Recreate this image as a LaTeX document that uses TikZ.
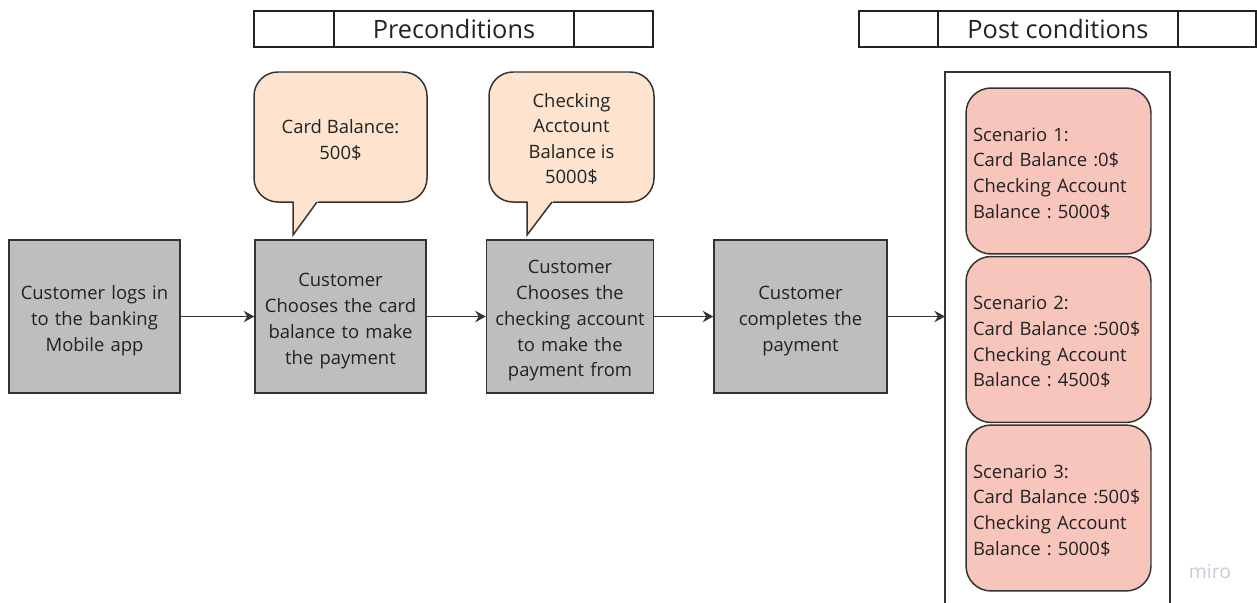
\documentclass[tikz,border=0pt]{standalone}
\usepackage{fontspec}
\setmainfont{Open Sans}
\frenchspacing
\usetikzlibrary{arrows.meta}

\definecolor{ink}{HTML}{222222}
\definecolor{edge}{HTML}{333333}
\definecolor{stepgray}{HTML}{BEBEBE}
\definecolor{notepeach}{HTML}{FEE4CF}
\definecolor{resultpink}{HTML}{F8C5BC}
\definecolor{markgray}{HTML}{C8CAD8}

\tikzset{
  stepbox/.style={draw=edge, line width=0.85pt, fill=stepgray, text=ink,
    align=center, text width=3.2cm, inner sep=2pt,
    minimum width=3.42cm, minimum height=3.06cm,
    font=\fontsize{10.5}{14.7}\selectfont,
    execute at begin node={\rule{0pt}{12.5pt}}},
  cell/.style={draw=ink, line width=1.1pt, fill=white, text=ink,
    minimum height=0.72cm, inner sep=0pt, font=\fontsize{14.4}{17}\selectfont},
  bubble/.style={draw=edge, line width=0.85pt, fill=notepeach},
  tail/.style={draw=edge, line width=0.85pt, line join=miter},
  note/.style={text=ink, align=center, font=\fontsize{10.5}{14.5}\selectfont},
  result/.style={draw=edge, line width=0.85pt, fill=resultpink, text=ink,
    rounded corners=0.5cm, align=left, text width=3.42cm, inner xsep=0.14cm,
    minimum width=3.7cm, minimum height=3.32cm,
    font=\fontsize{10.5}{14.6}\selectfont,
    execute at begin node={\rule{0pt}{10.5pt}}},
  flow/.style={draw=edge, line width=0.85pt,
    -{Stealth[length=6pt, width=6.5pt, inset=2pt]}}
}

\begin{document}
\begin{tikzpicture}[x=0.02cm, y=-0.02cm]
        \useasboundingbox (0,0) rectangle (1257,602);

        % header bars
        \node[cell, minimum width=1.6cm] (preL) at (294,29) {};
        \node[cell, minimum width=4.8cm] (pre) at (454,29) {Preconditions};
        \node[cell, minimum width=1.58cm] (preR) at (613.5,29) {};

        \node[cell, minimum width=1.58cm] (postL) at (898.5,29) {};
        \node[cell, minimum width=4.8cm] (post) at (1058,29) {Post conditions};
        \node[cell, minimum width=1.56cm] (postR) at (1217,29) {};

        % speech bubbles: rounded body, then the tail over its bottom edge
        \filldraw[bubble, rounded corners=0.48cm] (254,72) rectangle (427,202);
        \fill[notepeach] (293,199) -- (320,199) -- (293,235) -- cycle;
        \draw[tail] (293,201.6) -- (293,235) -- (317,202);

        \filldraw[bubble, rounded corners=0.48cm] (489,72) rectangle (654,202);
        \fill[notepeach] (527,199) -- (555,199) -- (527,235) -- cycle;
        \draw[tail] (527,201.6) -- (527,235) -- (552,202);

        \node[note] (card) at (340.5,140) {Card Balance:\\500\$};
        \node[note] (check) at (571.5,139) {Checking\\Acctount\\Balance is\\5000\$};

        % steps
        \node[stepbox] (login) at (94.5,316.5) {Customer logs in\\to the banking\\Mobile app};
        \node[stepbox] (chcard) at (340.5,316.5) {Customer\\Chooses the card\\balance to make\\the payment};
        \node[stepbox, minimum width=3.32cm] (chacc) at (570,316.5) {Customer\\Chooses the\\checking account\\to make the\\payment from};
        \node[stepbox, minimum width=3.46cm] (pay) at (800.5,316.5) {Customer\\completes the\\payment};

        % results column
        \draw[draw=edge, line width=0.85pt] (945,610) |- (1170,72) -- (1170,610);
        \coordinate (col) at (945,316.5);

        \node[result] (sc1) at (1058.5,171) {Scenario 1:\\Card Balance :0\$\\Checking Account\\Balance : 5000\$};
        \node[result] (sc2) at (1058.5,339.5) {Scenario 2:\\Card Balance :500\$\\Checking Account\\Balance : 4500\$};
        \node[result] (sc3) at (1058.5,508) {Scenario 3:\\Card Balance :500\$\\Checking Account\\Balance : 5000\$};

        \draw[flow] (login) -- (chcard);
        \draw[flow] (chcard) -- (chacc);
        \draw[flow] (chacc) -- (pay);
        \draw[flow] (pay) -- (col);

        \node[text=markgray, font=\fontsize{11}{13}\selectfont] (mark) at (1210,571) {miro};
      \end{tikzpicture}
\end{document}
